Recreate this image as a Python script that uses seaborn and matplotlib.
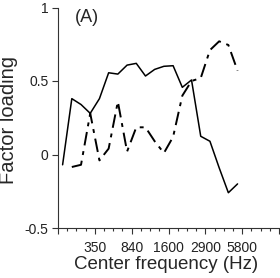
import numpy as np
import pandas as pd
import matplotlib
matplotlib.use("Agg")
import matplotlib.pyplot as plt
from matplotlib.ticker import MultipleLocator, FixedLocator, FixedFormatter
import seaborn as sns

# Band positions (axis units) and factor loadings
band_solid = [0.5, 1.5, 2.5, 3.5, 4.5, 5.5, 6.5, 7.5, 8.5, 9.5,
              10.5, 11.5, 12.5, 13.5, 14.5, 15.5, 16.5, 17.5, 18.5, 19.5]
factor1 = [-0.07, 0.38, 0.34, 0.28, 0.38, 0.556, 0.547, 0.608, 0.62, 0.534,
           0.579, 0.60, 0.604, 0.457, 0.507, 0.124, 0.09, -0.09, -0.26, -0.20]

band_dashed = [1.5, 2.5, 3.5, 4.5, 5.5, 6.5, 7.5, 8.5, 9.5, 10.5,
               11.5, 12.5, 13.5, 14.5, 15.5, 16.5, 17.5, 18.5, 19.5]
factor2 = [-0.085, -0.07, 0.28, -0.04, 0.04, 0.36, 0.02, 0.185, 0.185, 0.09,
           0.01, 0.12, 0.40, 0.50, 0.52, 0.71, 0.77, 0.745, 0.57]

tick_pos = [4, 8, 12, 16, 20]
tick_labels = ["350", "840", "1600", "2900", "5800"]
y_ticks = [-0.5, 0, 0.5, 1]
y_labels = ["-0.5", "0", "0.5", "1"]

sns.set_style("ticks")
plt.rcParams['font.family'] = ['Liberation Sans', 'DejaVu Sans']

fig = plt.figure(figsize=(2.8, 2.78), dpi=100)
ax = fig.add_axes([58/280, 50/278, 221/280, 220.5/278])

df1 = pd.DataFrame({"band": band_solid, "loading": factor1})
df2 = pd.DataFrame({"band": band_dashed, "loading": factor2})
sns.lineplot(data=df1, x="band", y="loading", ax=ax, color="black", lw=1.1)
sns.lineplot(data=df2, x="band", y="loading", ax=ax, color="black", lw=1.4,
             dashes=False)
ax.lines[-1].set_dashes([7, 3, 2, 3])

ax.set_xlim(0, 24)
ax.set_ylim(-0.5, 1)
ax.xaxis.set_major_locator(FixedLocator([0] + tick_pos + [24]))
ax.xaxis.set_major_formatter(FixedFormatter([""] + tick_labels + [""]))
ax.xaxis.set_minor_locator(MultipleLocator(1))
ax.set_yticks(y_ticks)
ax.set_yticklabels(y_labels)

for s in ["top", "right"]:
    ax.spines[s].set_visible(False)
for s in ["left", "bottom"]:
    ax.spines[s].set_linewidth(0.8)
    ax.spines[s].set_color("#333333")

ax.tick_params(axis="both", which="major", length=4, width=0.8,
               labelsize=10, pad=3, color="#333333", labelcolor="#222222")
ax.tick_params(axis="x", which="major", pad=5)
ax.tick_params(axis="x", which="minor", length=2, width=0.8, color="#333333")
ax.tick_params(axis="y", which="minor", length=0)

ax.set_xlabel("Center frequency (Hz)", fontsize=13.5)
ax.xaxis.set_label_coords(0.49, -0.128)
ax.set_ylabel("Factor loading", fontsize=14.5)
ax.yaxis.set_label_coords(-0.18, 0.49)
ax.text(0.13, 0.955, "(A)", transform=ax.transAxes, fontsize=13,
        ha="center", va="center")

fig.savefig("out.png", dpi=100)
